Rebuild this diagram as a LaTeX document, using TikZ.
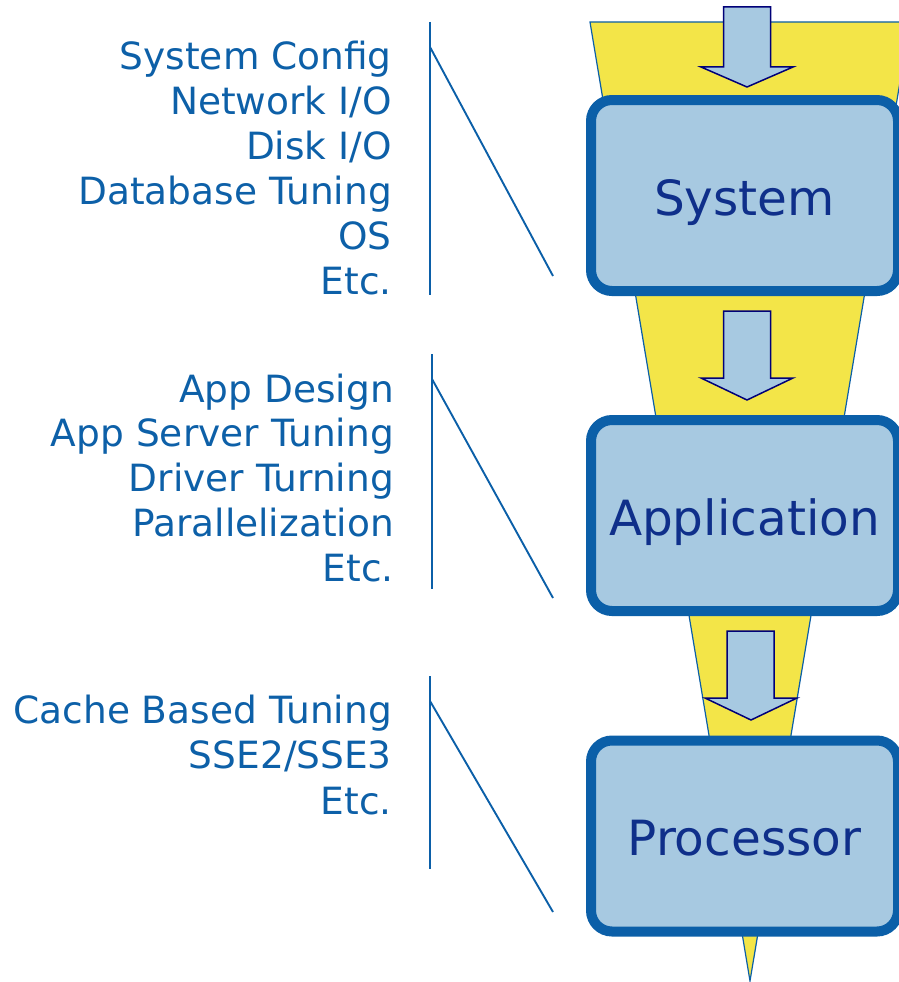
\documentclass[tikz,border=0pt]{standalone}
\usepackage{fontspec}
\setmainfont{DejaVu Sans}
\definecolor{funnelfill}{RGB}{243,229,72}
\definecolor{edgeblue}{RGB}{11,95,168}
\definecolor{boxfill}{RGB}{167,201,225}
\definecolor{boxtext}{RGB}{15,47,138}
\definecolor{listtext}{RGB}{13,96,168}
\definecolor{arrowline}{RGB}{0,0,120}
\begin{document}
\begin{tikzpicture}[x=1pt,y=-1pt,
  funnel/.style={fill=funnelfill,draw=edgeblue,line width=1.2pt,line join=miter},
  stagebox/.style={draw=edgeblue,fill=boxfill,line width=10pt,rounded corners=21pt,
    minimum width=307pt,minimum height=191pt,inner sep=0pt,text=boxtext,
    font=\fontsize{48.5}{56}\selectfont,text height=39pt,text depth=0pt},
  flowarrow/.style={fill=boxfill,draw=arrowline,line width=1.5pt,line join=miter},
  listline/.style={anchor=base east,inner sep=0pt,text=listtext,
    font=\fontsize{37.5}{44.8}\selectfont},
  rule/.style={draw=edgeblue,line width=2.5pt},
  lead/.style={draw=edgeblue,line width=1.9pt}]
\useasboundingbox (0,0) rectangle (899,982);
\clip (0,0) rectangle (899,982);

% funnel behind everything
\draw[funnel] (590,22) -- (910,22) -- (750,981) -- cycle;

% block arrows between the stages
\draw[flowarrow] (723.5,7) -- (770.5,7) -- (770.5,67) -- (793,67) -- (747,87)
  -- (701,67) -- (723.5,67) -- cycle;
\draw[flowarrow] (723.5,311) -- (770.5,311) -- (770.5,378) -- (793,378) -- (747,400)
  -- (701,378) -- (723.5,378) -- cycle;
\draw[flowarrow] (727,631) -- (774,631) -- (774,698) -- (797,698) -- (751,720)
  -- (705,698) -- (727,698) -- cycle;

% stages
\node[stagebox] (sys)  at (744.5,195.5) {System};
\node[stagebox] (app)  at (744.5,515.5) {Application};
\node[stagebox] (proc) at (744.5,836)   {Processor};

% tuning lists
\foreach \t [count=\i] in {System Config,Network I/O,Disk I/O,Database Tuning,OS,Etc.}
  \node[listline] (sysitem\i) at (392,{70+44.8*(\i-1)}) {\t};
\foreach \t [count=\i] in {App Design,App Server Tuning,Driver Turning,Parallelization,Etc.}
  \node[listline] (appitem\i) at (394,{402+44.75*(\i-1)}) {\t};
\foreach \t [count=\i] in {Cache Based Tuning,SSE2/SSE3,Etc.}
  \node[listline] (procitem\i) at (392,{723+45.5*(\i-1)}) {\t};

% brackets and leader lines
\coordinate (r1a) at (430,22);  \coordinate (r1b) at (430,295);
\coordinate (l1a) at (430,47);  \coordinate (l1b) at (553,276);
\coordinate (r2a) at (432,354); \coordinate (r2b) at (432,589);
\coordinate (l2a) at (432,379); \coordinate (l2b) at (553,598);
\coordinate (r3a) at (430,676); \coordinate (r3b) at (430,869);
\coordinate (l3a) at (430,701); \coordinate (l3b) at (553,912);
\draw[rule] (r1a) -- (r1b);
\draw[lead] (l1a) -- (l1b);
\draw[rule] (r2a) -- (r2b);
\draw[lead] (l2a) -- (l2b);
\draw[rule] (r3a) -- (r3b);
\draw[lead] (l3a) -- (l3b);
\end{tikzpicture}
\end{document}
